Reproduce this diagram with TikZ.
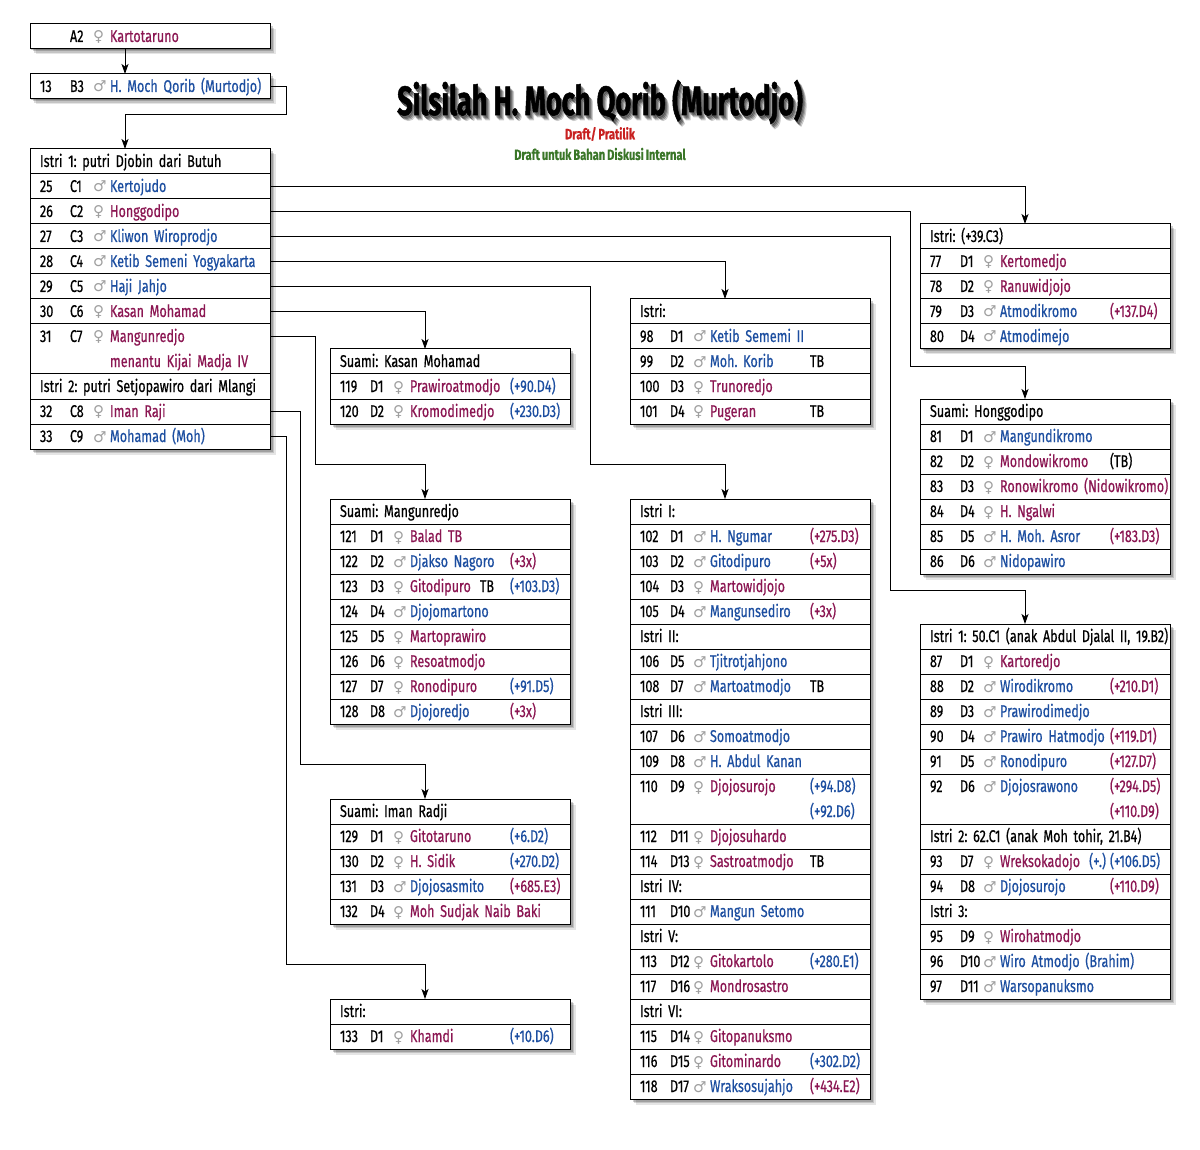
\documentclass[tikz,border=0pt]{standalone}
\usepackage{fontspec}
\setmainfont[FakeStretch=0.74,FakeBold=0.5,WordSpace=0.75]{Fira Sans}
\newfontfamily\symfont{DejaVu Sans}
\newfontfamily\titlefont[FakeStretch=0.66,FakeBold=1.2]{Fira Sans}
\usetikzlibrary{arrows.meta,calc,backgrounds}
\definecolor{fem}{RGB}{139,22,82}
\definecolor{mal}{RGB}{28,78,160}
\definecolor{symc}{RGB}{160,160,160}
\definecolor{redt}{RGB}{200,32,32}
\definecolor{greent}{RGB}{58,118,40}
\newlength\annx
\setlength\annx{170pt}
\newcommand\msym{{\symfont\fontsize{15}{15}\selectfont\textcolor{symc}{♂}}}
\newcommand\fsym{{\symfont\fontsize{15}{15}\selectfont\textcolor{symc}{♀}}}
\newcommand\ma[1]{\textcolor{mal}{#1}}
\newcommand\fe[1]{\textcolor{fem}{#1}}
\newcommand\hd[1]{\mbox{#1}}
\newcommand\lead[3]{\makebox[30pt][l]{#1}\makebox[23pt][l]{#2}\makebox[17pt][l]{#3}}
\newcommand\rwm[4]{\makebox[\annx][l]{\lead{#1}{#2}{\msym}\ma{#3}}#4}
\newcommand\rwf[4]{\makebox[\annx][l]{\lead{#1}{#2}{\fsym}\fe{#3}}#4}
\newcommand\shad[2]{\foreach \s/\o in {1/0.22,2.5/0.18,4/0.14,5.5/0.1}{\fill[black,opacity=\o] ($(#1.north west)+(\s,\s)$) rectangle ($(#2.south east)+(\s,\s)$);}}
\tikzset{
  row/.style={draw, line width=1pt, fill=white, rectangle, anchor=north west,
    minimum height=25pt, text width=220pt, inner xsep=10pt, inner ysep=0pt, outer sep=0pt,
    align=left, text height=14pt, text depth=3pt, font=\fontsize{17}{25}\selectfont\frenchspacing},
  wide/.style={text width=230pt},
  two/.style={minimum height=50pt, text depth=28pt},
  conn/.style={line width=1pt, -{Stealth[length=10pt,width=7pt,inset=2.5pt]}},
  ttl/.style={font=\titlefont\bfseries\fontsize{41}{41}\selectfont\frenchspacing},
}
\begin{document}
\begin{tikzpicture}[x=1pt,y=-1pt]
\useasboundingbox (0,0) rectangle (1200,1150);
% title
\foreach \dx/\dy/\o in {2/3/0.25,3/4/0.2,4/5/0.15,1/2/0.2}{
  \node[ttl, text=black, opacity=\o] at (600+\dx,102+\dy) {Silsilah H. Moch Qorib (Murtodjo)};}
\node[ttl] (title) at (600,102) {Silsilah H. Moch Qorib (Murtodjo)};
\node[font=\bfseries\fontsize{15}{15}\selectfont\frenchspacing, text=redt] (sub1) at (600,134) {Draft/ Pratilik};
\node[font=\bfseries\fontsize{15}{15}\selectfont\frenchspacing, text=greent] (sub2) at (600,154) {Draft untuk Bahan Diskusi Internal};
% top
\node[row] (a2) at (30,24) {\rwf{}{A2}{Kartotaruno}{}};
\node[row] (n13) at (30,74) {\rwm{13}{B3}{H. Moch Qorib (Murtodjo)}{}};
% main box
\node[row] (hm1) at (30,149) {\hd{Istri 1: putri Djobin dari Butuh}};
\node[row] (n25) at (hm1.south west) {\rwm{25}{C1}{Kertojudo}{}};
\node[row] (n26) at (n25.south west) {\rwf{26}{C2}{Honggodipo}{}};
\node[row] (n27) at (n26.south west) {\rwm{27}{C3}{Kliwon Wiroprodjo}{}};
\node[row] (n28) at (n27.south west) {\rwm{28}{C4}{Ketib Semeni Yogyakarta}{}};
\node[row] (n29) at (n28.south west) {\rwm{29}{C5}{Haji Jahjo}{}};
\node[row] (n30) at (n29.south west) {\rwf{30}{C6}{Kasan Mohamad}{}};
\node[row,two] (n31) at (n30.south west) {\rwf{31}{C7}{Mangunredjo}{}\\\hspace*{70pt}\fe{menantu Kijai Madja IV}};
\node[row] (hm2) at (n31.south west) {\hd{Istri 2: putri Setjopawiro dari Mlangi}};
\node[row] (n32) at (hm2.south west) {\rwf{32}{C8}{Iman Raji}{}};
\node[row] (n33) at (n32.south west) {\rwm{33}{C9}{Mohamad (Moh)}{}};
% box E
\node[row] (hE) at (630,299) {\hd{Istri:}};
\node[row] (n98) at (hE.south west) {\rwm{98}{D1}{Ketib Sememi II}{}};
\node[row] (n99) at (n98.south west) {\rwm{99}{D2}{Moh. Korib}{TB}};
\node[row] (n100) at (n99.south west) {\rwf{100}{D3}{Trunoredjo}{}};
\node[row] (n101) at (n100.south west) {\rwf{101}{D4}{Pugeran}{TB}};
% box F
\node[row] (hF) at (630,499) {\hd{Istri I:}};
\node[row] (n102) at (hF.south west) {\rwm{102}{D1}{H. Ngumar}{\fe{(+275.D3)}}};
\node[row] (n103) at (n102.south west) {\rwm{103}{D2}{Gitodipuro}{\fe{(+5x)}}};
\node[row] (n104) at (n103.south west) {\rwf{104}{D3}{Martowidjojo}{}};
\node[row] (n105) at (n104.south west) {\rwm{105}{D4}{Mangunsediro}{\fe{(+3x)}}};
\node[row] (hF2) at (n105.south west) {\hd{Istri II:}};
\node[row] (n106) at (hF2.south west) {\rwm{106}{D5}{Tjitrotjahjono}{}};
\node[row] (n108) at (n106.south west) {\rwm{108}{D7}{Martoatmodjo}{TB}};
\node[row] (hF3) at (n108.south west) {\hd{Istri III:}};
\node[row] (n107) at (hF3.south west) {\rwm{107}{D6}{Somoatmodjo}{}};
\node[row] (n109) at (n107.south west) {\rwm{109}{D8}{H. Abdul Kanan}{}};
\node[row,two] (n110) at (n109.south west) {\rwf{110}{D9}{Djojosurojo}{\ma{(+94.D8)}}\\\hspace*{\annx}\ma{(+92.D6)}};
\node[row] (n112) at (n110.south west) {\rwf{112}{D11}{Djojosuhardo}{}};
\node[row] (n114) at (n112.south west) {\rwf{114}{D13}{Sastroatmodjo}{TB}};
\node[row] (hF4) at (n114.south west) {\hd{Istri IV:}};
\node[row] (n111) at (hF4.south west) {\rwm{111}{D10}{Mangun Setomo}{}};
\node[row] (hF5) at (n111.south west) {\hd{Istri V:}};
\node[row] (n113) at (hF5.south west) {\rwf{113}{D12}{Gitokartolo}{\ma{(+280.E1)}}};
\node[row] (n117) at (n113.south west) {\rwf{117}{D16}{Mondrosastro}{}};
\node[row] (hF6) at (n117.south west) {\hd{Istri VI:}};
\node[row] (n115) at (hF6.south west) {\rwf{115}{D14}{Gitopanuksmo}{}};
\node[row] (n116) at (n115.south west) {\rwf{116}{D15}{Gitominardo}{\ma{(+302.D2)}}};
\node[row] (n118) at (n116.south west) {\rwm{118}{D17}{Wraksosujahjo}{\fe{(+434.E2)}}};
% box G
\node[row] (hG) at (330,349) {\hd{Suami: Kasan Mohamad}};
\node[row] (n119) at (hG.south west) {\rwf{119}{D1}{Prawiroatmodjo}{\ma{(+90.D4)}}};
\node[row] (n120) at (n119.south west) {\rwf{120}{D2}{Kromodimedjo}{\ma{(+230.D3)}}};
% box H
\node[row] (hH) at (330,499) {\hd{Suami: Mangunredjo}};
\node[row] (n121) at (hH.south west) {\rwf{121}{D1}{Balad TB}{}};
\node[row] (n122) at (n121.south west) {\rwm{122}{D2}{Djakso Nagoro}{\fe{(+3x)}}};
\node[row] (n123) at (n122.south west) {\rwf{123}{D3}{Gitodipuro\hspace{9pt}\textcolor{black}{TB}}{\ma{(+103.D3)}}};
\node[row] (n124) at (n123.south west) {\rwm{124}{D4}{Djojomartono}{}};
\node[row] (n125) at (n124.south west) {\rwf{125}{D5}{Martoprawiro}{}};
\node[row] (n126) at (n125.south west) {\rwf{126}{D6}{Resoatmodjo}{}};
\node[row] (n127) at (n126.south west) {\rwf{127}{D7}{Ronodipuro}{\ma{(+91.D5)}}};
\node[row] (n128) at (n127.south west) {\rwm{128}{D8}{Djojoredjo}{\fe{(+3x)}}};
% box I
\node[row] (hI) at (330,799) {\hd{Suami: Iman Radji}};
\node[row] (n129) at (hI.south west) {\rwf{129}{D1}{Gitotaruno}{\ma{(+6.D2)}}};
\node[row] (n130) at (n129.south west) {\rwf{130}{D2}{H. Sidik}{\ma{(+270.D2)}}};
\node[row] (n131) at (n130.south west) {\rwm{131}{D3}{Djojosasmito}{\fe{(+685.E3)}}};
\node[row] (n132) at (n131.south west) {\rwf{132}{D4}{Moh Sudjak Naib Baki}{}};
% box J
\node[row] (hJ) at (330,999) {\hd{Istri:}};
\node[row] (n133) at (hJ.south west) {\rwf{133}{D1}{Khamdi}{\ma{(+10.D6)}}};
% right column boxes
\setlength\annx{180pt}
\node[row,wide] (hB) at (920,224) {\hd{Istri: (+39.C3)}};
\node[row,wide] (n77) at (hB.south west) {\rwf{77}{D1}{Kertomedjo}{}};
\node[row,wide] (n78) at (n77.south west) {\rwf{78}{D2}{Ranuwidjojo}{}};
\node[row,wide] (n79) at (n78.south west) {\rwm{79}{D3}{Atmodikromo}{\fe{(+137.D4)}}};
\node[row,wide] (n80) at (n79.south west) {\rwm{80}{D4}{Atmodimejo}{}};
\node[row,wide] (hC) at (920,399) {\hd{Suami: Honggodipo}};
\node[row,wide] (n81) at (hC.south west) {\rwm{81}{D1}{Mangundikromo}{}};
\node[row,wide] (n82) at (n81.south west) {\rwf{82}{D2}{Mondowikromo}{(TB)}};
\node[row,wide] (n83) at (n82.south west) {\rwf{83}{D3}{Ronowikromo (Nidowikromo)}{}};
\node[row,wide] (n84) at (n83.south west) {\rwf{84}{D4}{H. Ngalwi}{}};
\node[row,wide] (n85) at (n84.south west) {\rwm{85}{D5}{H. Moh. Asror}{\fe{(+183.D3)}}};
\node[row,wide] (n86) at (n85.south west) {\rwm{86}{D6}{Nidopawiro}{}};
\node[row,wide] (hD) at (920,624) {\hd{Istri 1: 50.C1 (anak Abdul Djalal II, 19.B2)}};
\node[row,wide] (n87) at (hD.south west) {\rwf{87}{D1}{Kartoredjo}{}};
\node[row,wide] (n88) at (n87.south west) {\rwm{88}{D2}{Wirodikromo}{\fe{(+210.D1)}}};
\node[row,wide] (n89) at (n88.south west) {\rwm{89}{D3}{Prawirodimedjo}{}};
\node[row,wide] (n90) at (n89.south west) {\rwm{90}{D4}{Prawiro Hatmodjo}{\fe{(+119.D1)}}};
\node[row,wide] (n91) at (n90.south west) {\rwm{91}{D5}{Ronodipuro}{\fe{(+127.D7)}}};
\node[row,wide,two] (n92) at (n91.south west) {\rwm{92}{D6}{Djojosrawono}{\fe{(+294.D5)}}\\\hspace*{\annx}\fe{(+110.D9)}};
\node[row,wide] (hD2) at (n92.south west) {\hd{Istri 2: 62.C1 (anak Moh tohir, 21.B4)}};
\node[row,wide] (n93) at (hD2.south west) {\rwf{93}{D7}{Wreksokadojo}{\llap{\ma{(+.)}\hspace{4pt}}\ma{(+106.D5)}}};
\node[row,wide] (n94) at (n93.south west) {\rwm{94}{D8}{Djojosurojo}{\fe{(+110.D9)}}};
\node[row,wide] (hD3) at (n94.south west) {\hd{Istri 3:}};
\node[row,wide] (n95) at (hD3.south west) {\rwf{95}{D9}{Wirohatmodjo}{}};
\node[row,wide] (n96) at (n95.south west) {\rwm{96}{D10}{Wiro Atmodjo (Brahim)}{}};
\node[row,wide] (n97) at (n96.south west) {\rwm{97}{D11}{Warsopanuksmo}{}};
% entry points
\coordinate (iMain) at ($(hm1.north west)+(95,0)$);
\coordinate (iB) at ($(hB.north west)+(105,0)$);
\coordinate (iC) at ($(hC.north west)+(105,0)$);
\coordinate (iD) at ($(hD.north west)+(105,0)$);
\coordinate (iE) at ($(hE.north west)+(95,0)$);
\coordinate (iF) at ($(hF.north west)+(95,0)$);
\coordinate (iG) at ($(hG.north west)+(95,0)$);
\coordinate (iH) at ($(hH.north west)+(95,0)$);
\coordinate (iI) at ($(hI.north west)+(95,0)$);
\coordinate (iJ) at ($(hJ.north west)+(95,0)$);
% connectors
\draw[conn] ($(a2.south west)+(95,0)$) -- ($(n13.north west)+(95,0)$);
\draw[conn] (n13.east) -| ++(16,28) -| (iMain);
\draw[conn] (n25.east) -| (iB);
\draw[conn] (n26.east) -| ($(iC)+(-115,-32)$) -| (iC);
\draw[conn] (n27.east) -| ($(iD)+(-135,-34)$) -| (iD);
\draw[conn] (n28.east) -| (iE);
\draw[conn] (n29.east) -| ($(iF)+(-135,-35)$) -| (iF);
\draw[conn] (n30.east) -| (iG);
\draw[conn] ($(n31.north east)+(0,12.5)$) -| ($(iH)+(-110,-35)$) -| (iH);
\draw[conn] (n32.east) -| ($(iI)+(-125,-35)$) -| (iI);
\draw[conn] (n33.east) -| ($(iJ)+(-139,-35)$) -| (iJ);
% shadows
\begin{pgfonlayer}{background}
\fill[white] (0,0) rectangle (1200,1150);
\shad{a2}{a2}
\shad{n13}{n13}
\shad{hm1}{n33}
\shad{hE}{n101}
\shad{hF}{n118}
\shad{hG}{n120}
\shad{hH}{n128}
\shad{hI}{n132}
\shad{hJ}{n133}
\shad{hB}{n80}
\shad{hC}{n86}
\shad{hD}{n97}
\end{pgfonlayer}
\end{tikzpicture}
\end{document}
